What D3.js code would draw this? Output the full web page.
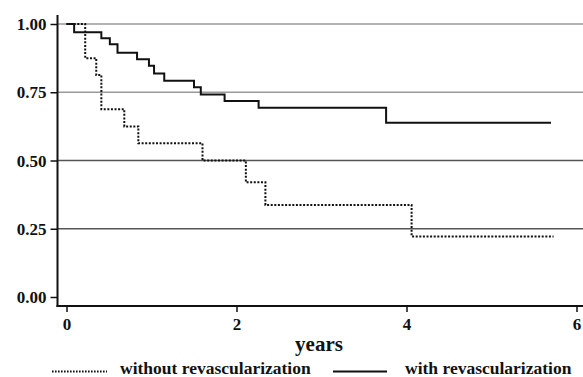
<!DOCTYPE html>
<html>
<head>
<meta charset="utf-8">
<script src="https://cdn.jsdelivr.net/npm/d3@7"></script>
<style>
  body { margin: 0; background: #fff; }
  svg text { font-family: "Liberation Serif", "Times New Roman", serif; font-weight: bold; fill: #111; }
</style>
</head>
<body>
<svg id="chart" width="583" height="377"></svg>
<script>
// survival curves (Kaplan-Meier), years vs proportion
const withTimes = [0, 0.09, 0.41, 0.51, 0.60, 0.83, 0.97, 1.03, 1.15, 1.50, 1.58, 1.86, 2.26, 3.76, 5.70];
const withSurv  = [1, 0.970, 0.948, 0.926, 0.895, 0.871, 0.847, 0.819, 0.792, 0.768, 0.742, 0.718, 0.693, 0.638, 0.638];

const withoutTimes = [0, 0.22, 0.35, 0.41, 0.68, 0.845, 1.60, 2.11, 2.34, 4.06, 5.73];
const withoutSurv  = [1, 0.875, 0.813, 0.688, 0.625, 0.563, 0.5, 0.42, 0.337, 0.222, 0.222];

const yTicks = [0, 0.25, 0.5, 0.75, 1];
const xTicks = [0, 2, 4, 6];
const legendLabels = ["without revascularization", "with revascularization"];

const svg = d3.select("#chart");
const width = +svg.attr("width");
const serif = '"Liberation Serif", "Times New Roman", serif';

const x = d3.scaleLinear().domain([0, 6]).range([66.5, 576.5]);
const y = d3.scaleLinear().domain([0, 1]).range([297, 24]);
const axisX = 57.5, axisY = 306;

// gridlines
svg.append("g").selectAll("line")
    .data(yTicks.filter(d => d > 0))
    .join("line")
    .attr("x1", axisX).attr("x2", width)
    .attr("y1", d => y(d)).attr("y2", d => y(d))
    .attr("stroke", d => d >= 0.75 ? "#9a9a9a" : "#555")
    .attr("stroke-width", 1.3);

// left axis
const leftAxis = d3.axisLeft(y).tickValues(yTicks).tickFormat(d3.format(".2f")).tickSize(7).tickSizeOuter(0);
const gy = svg.append("g").attr("transform", `translate(${axisX},0)`).call(leftAxis)
    .attr("font-family", serif).attr("font-size", 17).attr("font-weight", "bold");
gy.select(".domain").remove();
gy.selectAll(".tick line").attr("stroke", "#111").attr("stroke-width", 1.5);
gy.selectAll(".tick text").attr("x", -11).attr("dy", "0.33em")
    .style("font-family", serif).style("font-size", "17px").style("font-weight", "bold");
svg.append("line").attr("x1", axisX).attr("x2", axisX).attr("y1", 15).attr("y2", axisY + 1)
    .attr("stroke", "#111").attr("stroke-width", 2);

// bottom axis
const bottomAxis = d3.axisBottom(x).tickValues(xTicks).tickFormat(d3.format("d")).tickSize(6).tickSizeOuter(0);
const gx = svg.append("g").attr("transform", `translate(0,${axisY})`).call(bottomAxis)
    .attr("font-family", serif).attr("font-size", 17).attr("font-weight", "bold");
gx.select(".domain").remove();
gx.selectAll(".tick line").attr("stroke", "#111").attr("stroke-width", 1.5);
gx.selectAll(".tick text").attr("y", 24).attr("dy", 0)
    .style("font-family", serif).style("font-size", "17px").style("font-weight", "bold");
svg.append("line").attr("x1", axisX - 1).attr("x2", width).attr("y1", axisY).attr("y2", axisY)
    .attr("stroke", "#111").attr("stroke-width", 2);

svg.append("text").attr("x", 319).attr("y", 351).attr("text-anchor", "middle")
    .style("font-size", "21px").text("years");

// curves
const line = d3.line().x(d => x(d[0])).y(d => y(d[1])).curve(d3.curveStepAfter);

svg.append("path")
    .datum(d3.zip(withoutTimes, withoutSurv))
    .attr("fill", "none").attr("stroke", "#111").attr("stroke-width", 2)
    .attr("stroke-dasharray", "2,1.6")
    .attr("d", line);

svg.append("path")
    .datum(d3.zip(withTimes, withSurv))
    .attr("fill", "none").attr("stroke", "#111").attr("stroke-width", 2)
    .attr("d", line);

// legend
const legend = svg.append("g");
legend.append("line").attr("x1", 52).attr("x2", 107).attr("y1", 371.5).attr("y2", 371.5)
    .attr("stroke", "#111").attr("stroke-width", 2).attr("stroke-dasharray", "1.6,1.4");
legend.append("text").attr("x", 120).attr("y", 374).style("font-size", "17.5px").text(legendLabels[0]);
legend.append("line").attr("x1", 333).attr("x2", 387).attr("y1", 371.5).attr("y2", 371.5)
    .attr("stroke", "#111").attr("stroke-width", 2);
legend.append("text").attr("x", 405).attr("y", 374).style("font-size", "17.5px").text(legendLabels[1]);
</script>
</body>
</html>
